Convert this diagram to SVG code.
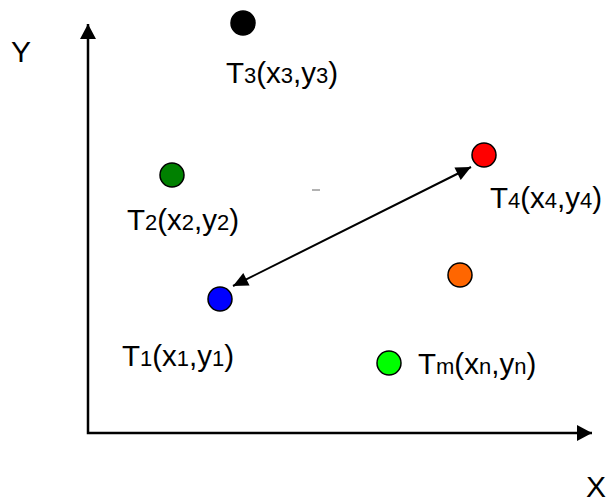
<svg xmlns="http://www.w3.org/2000/svg" width="606" height="497" viewBox="0 0 606 497">
<style>
.lbl{font-family:"Liberation Sans",Arial,sans-serif;font-size:29.5px;fill:#000}
.sub{font-size:22px}
.ax{font-family:"Liberation Sans",Arial,sans-serif;font-size:30px;fill:#000}
.pt{stroke:#000;stroke-width:1.5}
.axis{fill:none;stroke:#000;stroke-width:2.5}
.conn{fill:none;stroke:#000;stroke-width:2}
</style>
<defs>
<marker id="axh" markerUnits="userSpaceOnUse" markerWidth="16" markerHeight="16" viewBox="0 0 15 16" refX="15" refY="8" orient="auto-start-reverse">
<path d="M0,0 L15,8 L0,16 z" fill="#000"/>
</marker>
<marker id="ah" markerUnits="userSpaceOnUse" markerWidth="16" markerHeight="14" viewBox="0 0 15 14" refX="15" refY="7" orient="auto-start-reverse">
<path d="M0,0 L15,7 L0,14 z" fill="#000"/>
</marker>
</defs>
<rect width="606" height="497" fill="#fff"/>
<g id="connectors">
<polyline class="axis" points="88,24 88,433 592,433" marker-start="url(#axh)" marker-end="url(#axh)"/>
<line class="conn" x1="233" y1="286" x2="471" y2="167" marker-start="url(#ah)" marker-end="url(#ah)"/>
<line x1="312" y1="190" x2="320" y2="190" stroke="#666" stroke-width="1"/>
</g>
<g id="axis-labels">
<text class="ax" x="11" y="62">Y</text>
<text class="ax" x="586" y="497">X</text>
</g>
<g id="T3">
<circle class="pt" cx="243" cy="23" r="12"/>
<text class="lbl" x="226" y="83">T<tspan class="sub">3</tspan>(x<tspan class="sub">3</tspan>,y<tspan class="sub">3</tspan>)</text>
</g>
<g id="T2">
<circle class="pt" cx="172" cy="175" r="12" fill="#008000"/>
<text class="lbl" x="127" y="230">T<tspan class="sub">2</tspan>(x<tspan class="sub">2</tspan>,y<tspan class="sub">2</tspan>)</text>
</g>
<g id="T4">
<circle class="pt" cx="484" cy="155" r="12" fill="#ff0000"/>
<text class="lbl" x="490" y="208">T<tspan class="sub">4</tspan>(x<tspan class="sub">4</tspan>,y<tspan class="sub">4</tspan>)</text>
</g>
<g id="T1">
<circle class="pt" cx="220" cy="299" r="12" fill="#0000ff"/>
<text class="lbl" x="122" y="366">T<tspan class="sub">1</tspan>(x<tspan class="sub">1</tspan>,y<tspan class="sub">1</tspan>)</text>
</g>
<g id="T5">
<circle class="pt" cx="460" cy="275" r="12" fill="#ff6600"/>
</g>
<g id="Tm">
<circle class="pt" cx="389" cy="363" r="12" fill="#00ff00"/>
<text class="lbl" x="418" y="374">T<tspan class="sub">m</tspan>(x<tspan class="sub">n</tspan>,y<tspan class="sub">n</tspan>)</text>
</g>
</svg>
